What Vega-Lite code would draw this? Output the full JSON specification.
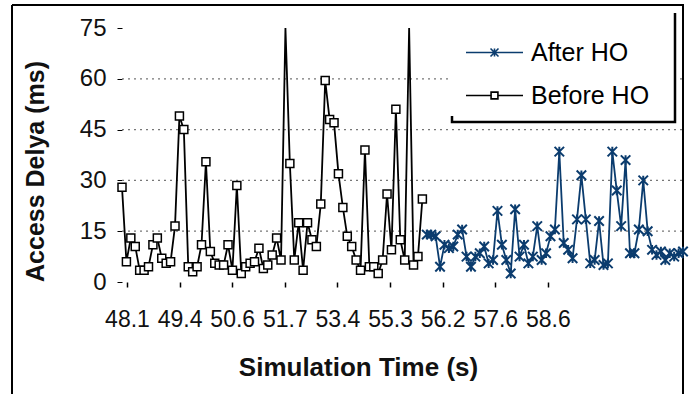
{
  "$schema": "https://vega.github.io/schema/vega-lite/v6.json",
  "autosize": "none",
  "width": 671,
  "height": 389,
  "padding": {"left": 12, "top": 5, "right": 6, "bottom": 1},
  "background": "white",
  "config": {
    "view": {"stroke": "#000", "strokeWidth": 2, "strokeDash": [1060, 671, 389, 0], "fill": "white"},
    "font": "Liberation Sans"
  },
  "data": {"values": [
    {"i":0,"series":"Before HO","value":28},{"i":1,"series":"Before HO","value":6},{"i":2,"series":"Before HO","value":13},{"i":3,"series":"Before HO","value":10.5},{"i":4,"series":"Before HO","value":3.5},{"i":5,"series":"Before HO","value":3.5},{"i":6,"series":"Before HO","value":4.5},{"i":7,"series":"Before HO","value":11},{"i":8,"series":"Before HO","value":13},{"i":9,"series":"Before HO","value":7},
    {"i":10,"series":"Before HO","value":5.5},{"i":11,"series":"Before HO","value":6},{"i":12,"series":"Before HO","value":16.5},{"i":13,"series":"Before HO","value":49},{"i":14,"series":"Before HO","value":45},{"i":15,"series":"Before HO","value":4.5},{"i":16,"series":"Before HO","value":3},{"i":17,"series":"Before HO","value":4.5},{"i":18,"series":"Before HO","value":11},{"i":19,"series":"Before HO","value":35.5},
    {"i":20,"series":"Before HO","value":9},{"i":21,"series":"Before HO","value":5.5},{"i":22,"series":"Before HO","value":5},{"i":23,"series":"Before HO","value":5},{"i":24,"series":"Before HO","value":11},{"i":25,"series":"Before HO","value":3.5},{"i":26,"series":"Before HO","value":28.5},{"i":27,"series":"Before HO","value":2.5},{"i":28,"series":"Before HO","value":4.5},{"i":29,"series":"Before HO","value":5.5},
    {"i":30,"series":"Before HO","value":6},{"i":31,"series":"Before HO","value":10},{"i":32,"series":"Before HO","value":4},{"i":33,"series":"Before HO","value":5},{"i":34,"series":"Before HO","value":8},{"i":35,"series":"Before HO","value":13},{"i":36,"series":"Before HO","value":6.5},{"i":37,"series":"Before HO","value":95},{"i":38,"series":"Before HO","value":35},{"i":39,"series":"Before HO","value":6.5},
    {"i":40,"series":"Before HO","value":17.5},{"i":41,"series":"Before HO","value":3.5},{"i":42,"series":"Before HO","value":17.5},{"i":43,"series":"Before HO","value":12.5},{"i":44,"series":"Before HO","value":10.5},{"i":45,"series":"Before HO","value":23},{"i":46,"series":"Before HO","value":59.5},{"i":47,"series":"Before HO","value":48},{"i":48,"series":"Before HO","value":47},{"i":49,"series":"Before HO","value":32},
    {"i":50,"series":"Before HO","value":22},{"i":51,"series":"Before HO","value":13.5},{"i":52,"series":"Before HO","value":10.5},{"i":53,"series":"Before HO","value":6.5},{"i":54,"series":"Before HO","value":3.5},{"i":55,"series":"Before HO","value":39},{"i":56,"series":"Before HO","value":4.5},{"i":57,"series":"Before HO","value":4.5},{"i":58,"series":"Before HO","value":2.5},{"i":59,"series":"Before HO","value":6.5},
    {"i":60,"series":"Before HO","value":26},{"i":61,"series":"Before HO","value":9.5},{"i":62,"series":"Before HO","value":51},{"i":63,"series":"Before HO","value":12.5},{"i":64,"series":"Before HO","value":6.5},{"i":65,"series":"Before HO","value":95},{"i":66,"series":"Before HO","value":5},{"i":67,"series":"Before HO","value":7.5},{"i":68,"series":"Before HO","value":24.5},
    {"i":69,"series":"After HO","value":14},{"i":70,"series":"After HO","value":14},{"i":71,"series":"After HO","value":13.5},{"i":72,"series":"After HO","value":4.5},{"i":73,"series":"After HO","value":11},{"i":74,"series":"After HO","value":10},{"i":75,"series":"After HO","value":10.5},{"i":76,"series":"After HO","value":14},{"i":77,"series":"After HO","value":15.5},{"i":78,"series":"After HO","value":7.5},{"i":79,"series":"After HO","value":4.5},
    {"i":80,"series":"After HO","value":7.5},{"i":81,"series":"After HO","value":8.5},{"i":82,"series":"After HO","value":10.5},{"i":83,"series":"After HO","value":5.5},{"i":84,"series":"After HO","value":6.5},{"i":85,"series":"After HO","value":21},{"i":86,"series":"After HO","value":11},{"i":87,"series":"After HO","value":6.5},{"i":88,"series":"After HO","value":2.5},{"i":89,"series":"After HO","value":21.5},
    {"i":90,"series":"After HO","value":7.5},{"i":91,"series":"After HO","value":11},{"i":92,"series":"After HO","value":5.5},{"i":93,"series":"After HO","value":7.5},{"i":94,"series":"After HO","value":16.5},{"i":95,"series":"After HO","value":6.5},{"i":96,"series":"After HO","value":8.5},{"i":97,"series":"After HO","value":13.5},{"i":98,"series":"After HO","value":15.5},{"i":99,"series":"After HO","value":38.5},
    {"i":100,"series":"After HO","value":11.5},{"i":101,"series":"After HO","value":9.5},{"i":102,"series":"After HO","value":7},{"i":103,"series":"After HO","value":18.5},{"i":104,"series":"After HO","value":31.5},{"i":105,"series":"After HO","value":18.5},{"i":106,"series":"After HO","value":5.5},{"i":107,"series":"After HO","value":6.5},{"i":108,"series":"After HO","value":18},{"i":109,"series":"After HO","value":5},
    {"i":110,"series":"After HO","value":5.5},{"i":111,"series":"After HO","value":38.5},{"i":112,"series":"After HO","value":27},{"i":113,"series":"After HO","value":16.5},{"i":114,"series":"After HO","value":36},{"i":115,"series":"After HO","value":8.5},{"i":116,"series":"After HO","value":8.5},{"i":117,"series":"After HO","value":15.5},{"i":118,"series":"After HO","value":30},{"i":119,"series":"After HO","value":15},
    {"i":120,"series":"After HO","value":9.5},{"i":121,"series":"After HO","value":8},{"i":122,"series":"After HO","value":9},{"i":123,"series":"After HO","value":6.5},{"i":124,"series":"After HO","value":8.5},{"i":125,"series":"After HO","value":7.5},{"i":126,"series":"After HO","value":8.5},{"i":127,"series":"After HO","value":9}
  ]},
  "layer": [
    {
      "data": {"values": [{"g": 15}, {"g": 30}, {"g": 45}, {"g": 60}]},
      "mark": {"type": "rule", "strokeDash": [2, 4], "color": "#777", "strokeWidth": 1.2},
      "encoding": {
        "y": {"field": "g", "type": "quantitative"},
        "x": {"datum": 0},
        "x2": {"datum": 127}
      }
    },
    {
      "mark": {"type": "line", "strokeWidth": 1.8},
      "encoding": {
        "x": {
          "field": "i", "type": "quantitative",
          "scale": {"domain": [0, 127], "range": [110, 671], "nice": false, "zero": false},
          "axis": {
            "values": [1.13, 13.04, 24.95, 36.86, 48.77, 60.68, 72.59, 84.5, 96.41],
            "labelExpr": "['48.1','49.4','50.6','51.7','53.4','55.3','56.2','57.6','58.6'][round((datum.value-1.13)/11.91)]",
            "offset": -112, "domain": false, "grid": false,
            "ticks": true, "tickSize": 5, "tickColor": "#000", "tickWidth": 1.5,
            "labelPadding": 21, "labelFont": "Liberation Sans", "labelFontSize": 23, "labelColor": "#111",
            "labelFlush": false, "labelOverlap": false,
            "title": "Simulation Time (s)", "titleFont": "Liberation Sans", "titleFontSize": 26, "titleFontWeight": "bold", "titleColor": "#111",
            "titleX": 346, "titleY": 93, "titleBaseline": "alphabetic", "titleAlign": "center"
          }
        },
        "y": {
          "field": "value", "type": "quantitative",
          "scale": {"domain": [0, 75], "range": [277, 23], "clamp": true, "nice": false},
          "axis": {
            "values": [0, 15, 30, 45, 60, 75],
            "offset": -110, "domain": false, "grid": false,
            "ticks": true, "tickSize": 5, "tickColor": "#000",
            "labelPadding": 11, "labelFont": "Liberation Sans", "labelFontSize": 24, "labelColor": "#111",
            "title": "Access Delya (ms)", "titleFont": "Liberation Sans", "titleFontSize": 25, "titleFontWeight": "bold", "titleColor": "#111",
            "titleX": -79, "titleY": 166, "titleAngle": -90, "titleBaseline": "alphabetic", "titleAlign": "center"
          }
        },
        "color": {
          "field": "series", "type": "nominal",
          "scale": {"domain": ["After HO", "Before HO"], "range": ["#0b3c6e", "#000000"]},
          "legend": {
            "orient": "none", "legendX": 440, "legendY": 5, "title": null,
            "direction": "vertical",
            "labelFont": "Liberation Sans", "labelFontSize": 25, "labelColor": "#000",
            "labelOffset": 7, "symbolSize": 3249, "symbolStrokeWidth": 1.6,
            "rowPadding": -2, "padding": 13,
            "fillColor": "#fff", "strokeColor": "#000",
            "encode": {
              "legend": {"update": {
                "strokeWidth": {"value": 2.5},
                "strokeDash": {"value": [0, 226, 338, 400]}
              }},
              "symbols": {"update": {
                "shape": {"signal": "datum.value == 'After HO' ? 'M-1,0L1,0M-0.14,-0.14L0.14,0.14M-0.14,0.14L0.14,-0.14M0,-0.14L0,0.14M5.75,0' : 'M-1,0L-0.12,0M0.12,0L1,0M-0.12,-0.12L0.12,-0.12L0.12,0.12L-0.12,0.12ZM5.75,0'"},
                "fill": {"signal": "datum.value == 'After HO' ? 'transparent' : '#ffffff'"}
              }}
            }
          }
        }
      }
    },
    {
      "transform": [{"filter": "datum.value <= 75 && datum.series == 'Before HO'"}],
      "mark": {"type": "point", "shape": "square", "size": 64, "strokeWidth": 1.5, "stroke": "#000", "fill": "#fff", "opacity": 1, "fillOpacity": 1},
      "encoding": {
        "x": {"field": "i", "type": "quantitative"},
        "y": {"field": "value", "type": "quantitative"}
      }
    },
    {
      "transform": [{"filter": "datum.value <= 75 && datum.series == 'After HO'"}],
      "mark": {"type": "point", "shape": "M-1,-1L1,1M-1,1L1,-1M0,-1L0,1", "size": 90, "strokeWidth": 2, "stroke": "#0b3c6e", "fill": "transparent", "opacity": 1},
      "encoding": {
        "x": {"field": "i", "type": "quantitative"},
        "y": {"field": "value", "type": "quantitative"}
      }
    }
  ]
}
